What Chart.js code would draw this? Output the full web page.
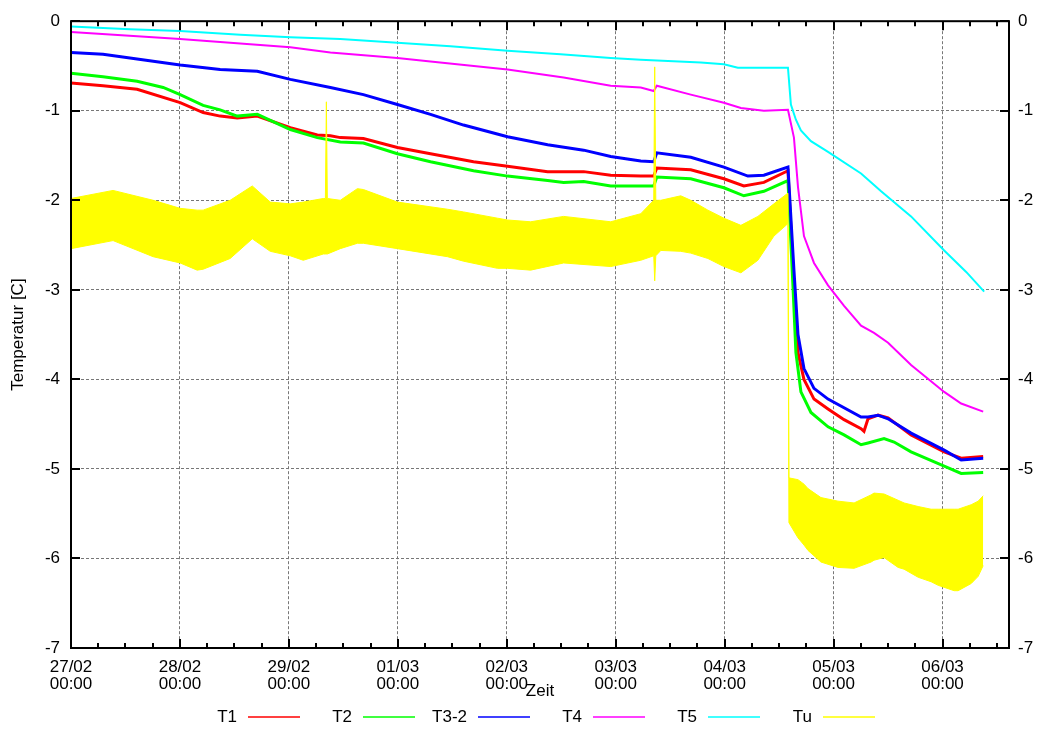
<!DOCTYPE html>
<html lang="de">
<head>
<meta charset="utf-8">
<title>Temperaturverlauf</title>
<script src="https://cdn.jsdelivr.net/npm/chart.js@4.4.1/dist/chart.umd.min.js"></script>
<style>
  html, body { margin: 0; padding: 0; background: #fff; }
  #box { width: 1038px; height: 729px; }
</style>
</head>
<body>
<div id="box"><canvas id="chart" width="1038" height="729"></canvas></div>
<script>
// Zeit in Tagen ab 27/02 00:00, Werte in °C

const zeitT1 = [0, 0.294, 0.607, 1.002, 1.213, 1.369, 1.526, 1.710, 2.013, 2.261, 2.381, 2.472, 2.684, 2.996, 3.300, 3.695, 4.007, 4.375, 4.706, 4.954, 5.230, 5.349, 5.377, 5.689, 5.993, 6.176, 6.360, 6.581, 6.636, 6.673, 6.728, 6.820, 6.949, 7.096, 7.252, 7.279, 7.316, 7.408, 7.500, 7.711, 8.015, 8.171, 8.373];
const werteT1 = [-0.69, -0.72, -0.76, -0.91, -1.02, -1.06, -1.08, -1.06, -1.19, -1.27, -1.28, -1.30, -1.31, -1.41, -1.48, -1.57, -1.62, -1.68, -1.68, -1.72, -1.73, -1.73, -1.64, -1.66, -1.76, -1.84, -1.80, -1.67, -2.96, -3.70, -4.00, -4.22, -4.33, -4.45, -4.55, -4.58, -4.44, -4.40, -4.43, -4.62, -4.81, -4.88, -4.86];

const zeitT2 = [0, 0.294, 0.607, 0.846, 1.002, 1.213, 1.369, 1.526, 1.710, 2.013, 2.261, 2.472, 2.684, 2.996, 3.300, 3.695, 4.007, 4.375, 4.522, 4.706, 4.954, 5.349, 5.377, 5.689, 5.993, 6.176, 6.360, 6.581, 6.627, 6.654, 6.700, 6.792, 6.949, 7.096, 7.252, 7.316, 7.463, 7.555, 7.711, 8.015, 8.171, 8.373];
const werteT2 = [-0.58, -0.62, -0.67, -0.74, -0.82, -0.94, -0.99, -1.06, -1.04, -1.21, -1.30, -1.35, -1.36, -1.48, -1.57, -1.67, -1.73, -1.78, -1.80, -1.79, -1.84, -1.84, -1.74, -1.76, -1.86, -1.95, -1.90, -1.78, -2.96, -3.70, -4.14, -4.37, -4.53, -4.62, -4.73, -4.71, -4.66, -4.70, -4.81, -4.97, -5.05, -5.04];

const zeitT32 = [0, 0.294, 1.002, 1.369, 1.710, 2.013, 2.381, 2.684, 2.996, 3.300, 3.603, 4.007, 4.375, 4.706, 4.954, 5.230, 5.349, 5.377, 5.689, 5.993, 6.213, 6.360, 6.581, 6.636, 6.673, 6.728, 6.820, 6.949, 7.252, 7.316, 7.408, 7.500, 7.711, 8.015, 8.171, 8.373];
const werteT32 = [-0.35, -0.37, -0.49, -0.54, -0.56, -0.65, -0.74, -0.82, -0.93, -1.04, -1.16, -1.29, -1.38, -1.44, -1.51, -1.56, -1.57, -1.47, -1.52, -1.63, -1.73, -1.72, -1.63, -2.78, -3.50, -3.88, -4.10, -4.22, -4.42, -4.42, -4.40, -4.44, -4.60, -4.79, -4.90, -4.88];

const zeitT4 = [0, 1.002, 2.013, 2.381, 2.996, 3.300, 4.007, 4.522, 4.954, 5.230, 5.349, 5.377, 5.689, 5.993, 6.149, 6.360, 6.581, 6.636, 6.673, 6.728, 6.820, 6.949, 7.096, 7.252, 7.371, 7.500, 7.711, 8.015, 8.171, 8.373];
const werteT4 = [-0.12, -0.20, -0.29, -0.35, -0.41, -0.45, -0.54, -0.63, -0.72, -0.74, -0.78, -0.72, -0.82, -0.91, -0.97, -1.00, -0.99, -1.30, -1.85, -2.40, -2.70, -2.95, -3.18, -3.40, -3.48, -3.59, -3.84, -4.14, -4.27, -4.36];

const zeitT5 = [0, 0.542, 1.002, 1.554, 2.013, 2.472, 2.996, 3.483, 4.007, 4.494, 4.954, 5.230, 5.781, 5.993, 6.121, 6.581, 6.608, 6.654, 6.700, 6.792, 6.949, 7.252, 7.436, 7.711, 8.015, 8.217, 8.382];
const werteT5 = [-0.06, -0.09, -0.11, -0.15, -0.18, -0.20, -0.24, -0.28, -0.33, -0.37, -0.41, -0.43, -0.46, -0.48, -0.52, -0.52, -0.93, -1.10, -1.22, -1.34, -1.46, -1.70, -1.90, -2.18, -2.56, -2.80, -3.02];

// Umgebungstemperatur Tu: schnelle Schwankung, als Band zwischen Maxima und Minima
const zeitTu = [0, 0.386, 0.754, 1.002, 1.158, 1.213, 1.461, 1.664, 1.829, 2.013, 2.132, 2.316, 2.335, 2.344, 2.353, 2.472, 2.629, 2.684, 2.996, 3.456, 3.603, 3.915, 4.007, 4.219, 4.522, 4.954, 5.230, 5.349, 5.358, 5.368, 5.414, 5.597, 5.689, 5.846, 5.993, 6.149, 6.305, 6.452, 6.581, 6.590, 6.673, 6.728, 6.765, 6.884, 7.040, 7.188, 7.344, 7.371, 7.463, 7.592, 7.647, 7.776, 7.895, 7.960, 8.107, 8.143, 8.263, 8.327, 8.373];
const tuMax = [-1.98, -1.89, -2.00, -2.09, -2.11, -2.11, -2.00, -1.84, -2.02, -2.04, -2.02, -1.98, -1.98, -0.90, -1.98, -2.00, -1.87, -1.88, -2.02, -2.10, -2.13, -2.20, -2.22, -2.24, -2.18, -2.24, -2.15, -2.00, -0.51, -2.00, -2.00, -1.95, -2.00, -2.11, -2.20, -2.28, -2.18, -2.04, -1.92, -5.10, -5.12, -5.17, -5.22, -5.32, -5.36, -5.38, -5.29, -5.27, -5.28, -5.35, -5.38, -5.42, -5.45, -5.45, -5.45, -5.45, -5.40, -5.36, -5.30];
const tuMin = [-2.54, -2.45, -2.63, -2.70, -2.78, -2.77, -2.65, -2.43, -2.57, -2.62, -2.67, -2.60, -2.60, -2.60, -2.60, -2.54, -2.48, -2.48, -2.54, -2.63, -2.68, -2.76, -2.76, -2.78, -2.70, -2.74, -2.67, -2.62, -2.90, -2.62, -2.56, -2.57, -2.59, -2.65, -2.74, -2.81, -2.67, -2.40, -2.26, -5.60, -5.77, -5.85, -5.91, -6.04, -6.10, -6.11, -6.04, -6.02, -5.99, -6.10, -6.12, -6.21, -6.26, -6.30, -6.36, -6.36, -6.28, -6.20, -6.08];

const yTicks = [0, -1, -2, -3, -4, -5, -6, -7];
const tageTicks = [0, 1, 2, 3, 4, 5, 6, 7, 8];
const startDatum = Date.UTC(2012, 1, 27, 0, 0);
const xEnde = 8.61;

const SCHRIFT = "'Liberation Sans', Arial, Helvetica, sans-serif";

function punkte(zeit, werte) {
  return zeit.map((t, i) => ({ x: t, y: werte[i] }));
}

function zwei(n) { return String(n).padStart(2, '0'); }

function datumLabel(tage) {
  const d = new Date(startDatum + Math.round(tage * 86400000));
  return [zwei(d.getUTCDate()) + '/' + zwei(d.getUTCMonth() + 1),
          zwei(d.getUTCHours()) + ':' + zwei(d.getUTCMinutes())];
}

function linie(label, zeit, werte, farbe, breite, reihenfolge) {
  return {
    label: label,
    data: punkte(zeit, werte),
    borderColor: farbe,
    backgroundColor: farbe,
    borderWidth: breite,
    pointRadius: 0,
    tension: 0,
    fill: false,
    order: reihenfolge,
    imLegend: true
  };
}

const datasets = [
  linie('T1', zeitT1, werteT1, '#ff0000', 3, 7),
  linie('T2', zeitT2, werteT2, '#00ff00', 3, 6),
  linie('T3-2', zeitT32, werteT32, '#0000ff', 3, 5),
  linie('T4', zeitT4, werteT4, '#ff00ff', 2, 4),
  linie('T5', zeitT5, werteT5, '#00ffff', 2, 3),
  Object.assign(linie('Tu', zeitTu, tuMax, '#ffff00', 1, 1), {
    fill: { target: '+1' },
    backgroundColor: '#ffff00'
  }),
  Object.assign(linie('Tu min', zeitTu, tuMin, '#ffff00', 1, 2), { imLegend: false })
];

// Rahmen mit nach innen zeigenden Teilstrichen
const rahmenPlugin = {
  id: 'rahmen',
  afterDatasetsDraw(chart) {
    const { ctx, chartArea: a, scales } = chart;
    ctx.save();
    ctx.strokeStyle = '#000';
    ctx.lineWidth = 2;
    ctx.beginPath();
    // x: Haupt- und Nebenstriche (alle 6 Stunden)
    for (let q = 0; q <= Math.floor(xEnde * 4); q++) {
      const v = q / 4;
      const px = Math.round(scales.x.getPixelForValue(v));
      const len = (q % 4 === 0) ? 9 : 5;
      ctx.moveTo(px, a.bottom); ctx.lineTo(px, a.bottom - len);
      ctx.moveTo(px, a.top); ctx.lineTo(px, a.top + len);
    }
    yTicks.forEach(v => {
      const py = Math.round(scales.y.getPixelForValue(v));
      ctx.moveTo(a.left, py); ctx.lineTo(a.left + 9, py);
      ctx.moveTo(a.right, py); ctx.lineTo(a.right - 9, py);
    });
    ctx.stroke();
    ctx.strokeRect(a.left, a.top, a.right - a.left, a.bottom - a.top);
    ctx.restore();
  }
};

// Legende: Name, dann Linienmuster rechts daneben
const legendePlugin = {
  id: 'legende',
  afterDraw(chart) {
    const { ctx } = chart;
    const eintraege = chart.data.datasets.filter(d => d.imLegend);
    ctx.save();
    ctx.font = '17px ' + SCHRIFT;
    ctx.fillStyle = '#000';
    ctx.textAlign = 'right';
    ctx.textBaseline = 'middle';
    eintraege.forEach((d, i) => {
      const x0 = 248 + 115 * i;
      const y = 717;
      ctx.fillText(d.label, x0 - 11, y);
      ctx.strokeStyle = d.borderColor;
      ctx.lineWidth = 1.5;
      ctx.beginPath();
      ctx.moveTo(x0, y); ctx.lineTo(x0 + 52, y);
      ctx.stroke();
    });
    ctx.restore();
  }
};

const gitter = {
  color: (c) => {
    const v = c.tick ? c.tick.value : null;
    return (v === 0 || v === -7) ? 'rgba(0,0,0,0)' : '#777';
  },
  lineWidth: 1,
  drawTicks: false
};

new Chart(document.getElementById('chart'), {
  type: 'line',
  data: { datasets: datasets },
  plugins: [rahmenPlugin, legendePlugin],
  options: {
    responsive: false,
    animation: false,
    events: [],
    layout: { padding: { top: 16, right: 0, bottom: 0, left: 0 } },
    plugins: {
      legend: { display: false },
      tooltip: { enabled: false },
      filler: { propagate: false }
    },
    scales: {
      x: {
        type: 'linear',
        position: 'bottom',
        min: 0,
        max: xEnde,
        afterBuildTicks: (s) => { s.ticks = tageTicks.map(v => ({ value: v })); },
        afterFit: (s) => { s.height = 81; },
        border: { display: false, dash: [3, 2] },
        grid: gitter,
        ticks: {
          autoSkip: false,
          maxRotation: 0,
          padding: 11,
          color: '#000',
          font: { family: SCHRIFT, size: 17, lineHeight: 1.0 },
          callback: (v) => datumLabel(v)
        },
        title: {
          display: true,
          text: 'Zeit',
          color: '#000',
          font: { family: SCHRIFT, size: 17 },
          padding: { top: 0, bottom: 27 }
        }
      },
      y: {
        type: 'linear',
        position: 'left',
        min: -7,
        max: 0,
        afterBuildTicks: (s) => { s.ticks = yTicks.map(v => ({ value: v })); },
        afterFit: (s) => { s.width = 71; },
        border: { display: false, dash: [3, 2] },
        grid: gitter,
        ticks: {
          padding: 11,
          color: '#000',
          font: { family: SCHRIFT, size: 17 },
          callback: (v) => String(v)
        },
        title: {
          display: true,
          text: 'Temperatur [C]',
          color: '#000',
          font: { family: SCHRIFT, size: 17 },
          padding: { top: 8, bottom: 0 }
        }
      },
      y2: {
        type: 'linear',
        position: 'right',
        min: -7,
        max: 0,
        afterBuildTicks: (s) => { s.ticks = yTicks.map(v => ({ value: v })); },
        afterFit: (s) => { s.width = 29; },
        border: { display: false },
        grid: { display: false, drawTicks: false },
        ticks: {
          padding: 9,
          color: '#000',
          font: { family: SCHRIFT, size: 17 },
          callback: (v) => String(v)
        }
      }
    }
  }
});
</script>
</body>
</html>
